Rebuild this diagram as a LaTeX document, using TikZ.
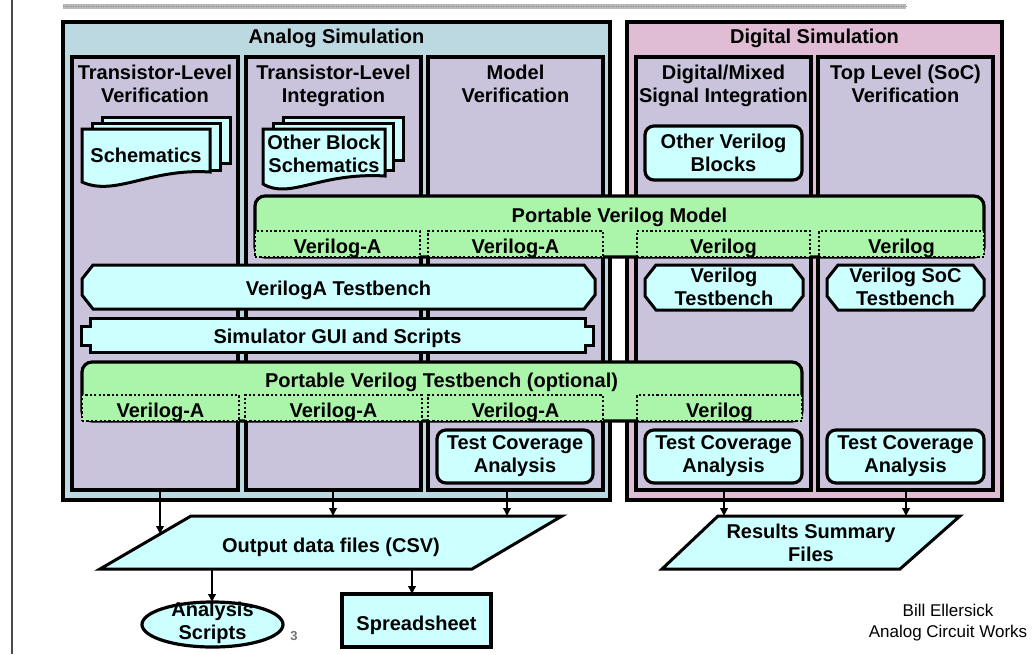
\documentclass[tikz,border=0pt]{standalone}
\usepackage{fontspec}
\setmainfont{Liberation Sans}
\usetikzlibrary{arrows.meta,shapes.geometric}
\definecolor{anaBg}{RGB}{188,217,226}
\definecolor{digBg}{RGB}{224,189,212}
\definecolor{colBg}{RGB}{201,196,219}
\definecolor{cyanFill}{RGB}{204,255,255}
\definecolor{greenFill}{RGB}{170,245,170}
\newcommand\mychamf[1]{%
 \draw[shp] ([xshift=11pt]#1.north west) -- ([xshift=-11pt]#1.north east) -- ([yshift=-14pt]#1.north east) -- ([yshift=14pt]#1.south east) -- ([xshift=-11pt]#1.south east) -- ([xshift=11pt]#1.south west) -- ([yshift=14pt]#1.south west) -- ([yshift=-14pt]#1.north west) -- cycle;}
\begin{document}
\begin{tikzpicture}[x=1pt,y=-1pt,
  every node/.style={font=\fontsize{20}{23}\selectfont\bfseries, align=center, inner sep=0pt, outer sep=0pt},
  bord/.style={draw=black, line width=3.2pt},
  colbox/.style={bord, fill=colBg, minimum height=433pt},
  cbox/.style={bord, fill=cyanFill, rounded corners=9pt},
  shp/.style={draw=black, line width=3pt, fill=cyanFill, line join=miter},
  gbox/.style={bord, fill=greenFill, rounded corners=10pt},
  sub/.style={draw=black, line width=2.2pt, dash pattern=on 2.2pt off 2.2pt, fill=greenFill, minimum height=26pt, text height=18pt, text depth=0pt},
  arr/.style={line width=1.8pt, -{Triangle[length=8pt,width=7.5pt]}}
]
\useasboundingbox (0,0) rectangle (1036,654);
\fill[white] (0,0) rectangle (1036,654);
\draw[black!70, line width=1.3pt] (12,0) -- (12,654);
\fill[black!28] (63,4) rectangle (906,9);
\draw[black!45, line width=0.8pt, dash pattern=on 1pt off 1.5pt] (63,6.5) -- (906,6.5);

% outer boxes
\node[bord, fill=anaBg, minimum width=547pt, minimum height=478pt] (ana) at (336.5,261) {};
\node[bord, fill=digBg, minimum width=375pt, minimum height=478pt] (dig) at (814.5,261) {};
\node[anchor=base] (anaT) at (336.5,43) {Analog Simulation};
\node[anchor=base] (digT) at (814.5,43) {Digital Simulation};

% columns
\node[colbox, minimum width=166pt] (c1) at (155,273.5) {};
\node[colbox, minimum width=175pt] (c2) at (333.5,273.5) {};
\node[colbox, minimum width=175pt] (c3) at (515.5,273.5) {};
\node[colbox, minimum width=175pt] (d1) at (723.5,273.5) {};
\node[colbox, minimum width=175pt] (d2) at (905.5,273.5) {};
\node (h1) at (155,84.2) {Transistor-Level\\Verification};
\node (h2) at (333.5,86.3) {Transistor-Level\\Integration};
\node (h3) at (515.5,84.2) {Model\\Verification};
\node (h4) at (723.5,86.3) {Digital/Mixed\\Signal Integration};
\node (h5) at (905.5,84.2) {Top Level (SoC)\\Verification};

% schematics stacks
\draw[shp] (102,117) rectangle (230,163);
\draw[shp] (92,123) rectangle (220,170);
\draw[shp] (82,129) -- (210,129) -- (210,172) .. controls (150,168) and (115,197) .. (82,182) -- cycle;
\node[anchor=base] (sch) at (146,162) {Schematics};

\draw[shp] (283,117) rectangle (403,160);
\draw[shp] (273,123) rectangle (393,170);
\draw[shp] (263,129) -- (385,129) -- (385,176) .. controls (320,172) and (290,200) .. (263,184) -- cycle;
\node (obs) at (324,154.2) {Other Block\\Schematics};

\node[cbox, minimum width=157pt, minimum height=54pt] (ovb) at (723.5,153) {Other Verilog\\Blocks};

% portable verilog model
\node[gbox, minimum width=729pt, minimum height=61pt] (pvm) at (619.5,226.5) {};
\node[anchor=base] (pvmT) at (619.5,222) {Portable Verilog Model};
\node[sub, minimum width=165pt] (m1) at (337.5,244) {Verilog-A};
\node[sub, minimum width=175pt] (m2) at (515.5,244) {Verilog-A};
\node[sub, minimum width=173pt] (m3) at (723.5,244) {Verilog};
\node[sub, minimum width=165pt] (m4) at (901.5,244) {Verilog};

% testbenches
\node[minimum width=513pt, minimum height=44pt] (vat) at (338.5,287) {};
\mychamf{vat}
\node[anchor=base] (vatT) at (338.5,295) {VerilogA Testbench};
\node[minimum width=158pt, minimum height=45pt] (vtb) at (724,287.5) {};
\mychamf{vtb}
\node (vtbT) at (724,287.2) {Verilog\\Testbench};
\node[minimum width=157pt, minimum height=45pt] (stb) at (905.5,287.5) {};
\mychamf{stb}
\node (stbT) at (905.5,287.2) {Verilog SoC\\Testbench};

% simulator GUI
\node[minimum width=495pt, minimum height=34pt] (gui) at (337.5,335) {};
\draw[shp] (gui.north west) -- (gui.north east) -- ([yshift=-8pt]gui.north east) -- ([xshift=8pt,yshift=-8pt]gui.north east) -- ([xshift=8pt,yshift=7pt]gui.south east) -- ([yshift=7pt]gui.south east) -- (gui.south east) -- (gui.south west) -- ([yshift=7pt]gui.south west) -- ([xshift=-9pt,yshift=7pt]gui.south west) -- ([xshift=-9pt,yshift=-8pt]gui.north west) -- ([yshift=-8pt]gui.north west) -- cycle;
\node[anchor=base] (guiT) at (337.5,343) {Simulator GUI and Scripts};

% portable verilog testbench
\node[gbox, minimum width=720pt, minimum height=59pt] (pvt) at (442,391.5) {};
\node[anchor=base] (pvtT) at (441.5,387) {Portable Verilog Testbench (optional)};
\node[sub, minimum width=157pt] (t1) at (160.5,408) {Verilog-A};
\node[sub, minimum width=177pt] (t2) at (333.5,408) {Verilog-A};
\node[sub, minimum width=175pt] (t3) at (515.5,408) {Verilog-A};
\node[sub, minimum width=165pt] (t4) at (719.5,408) {Verilog};

% test coverage
\node[cbox, minimum width=156pt, minimum height=53pt] (tc1) at (515,456.5) {Test Coverage\\Analysis};
\node[cbox, minimum width=157pt, minimum height=53pt] (tc2) at (723.5,456.5) {Test Coverage\\Analysis};
\node[cbox, minimum width=157pt, minimum height=53pt] (tc3) at (905.5,456.5) {Test Coverage\\Analysis};

% outputs
\draw[shp] (100,569) -- (191,516) -- (562,516) -- (472,569) -- cycle;
\node[anchor=base] (outT) at (331,552) {Output data files (CSV)};
\coordinate (inA) at (160,534);
\coordinate (inB) at (333,516);
\coordinate (inC) at (507,516);
\coordinate (outA) at (212,569);
\coordinate (outB) at (412,569);

\draw[shp] (662,569) -- (718,516) -- (960,516) -- (900,569) -- cycle;
\node (resT) at (811,543.2) {Results Summary\\Files};
\coordinate (inD) at (724,516);
\coordinate (inE) at (906,516);

\node[bord, fill=cyanFill, ellipse, minimum width=141pt, minimum height=45pt] (as) at (212.5,624.5) {};
\node (asT) at (212.5,623.3) {Analysis\\Scripts};
\node[bord, fill=cyanFill, minimum width=149pt, minimum height=53pt] (ss) at (416.5,620.5) {};
\node[anchor=base] (ssT) at (416.5,630) {Spreadsheet};

% arrows
\draw[arr] (c1.south -| inA) -- (inA);
\draw[arr] (c2.south -| inB) -- (inB);
\draw[arr] (c3.south -| inC) -- (inC);
\draw[arr] (d1.south -| inD) -- (inD);
\draw[arr] (d2.south -| inE) -- (inE);
\draw[arr] (outA) -- (outA |- as.north);
\draw[arr] (outB) -- (outB |- ss.north);

% footer
\node[font=\fontsize{13}{15}\selectfont\bfseries, text=black!55, anchor=base] (pg) at (294,640) {3};
\node[font=\fontsize{17}{21}\selectfont] (auth) at (948,623) {Bill Ellersick\\Analog Circuit Works};
\end{tikzpicture}
\end{document}
